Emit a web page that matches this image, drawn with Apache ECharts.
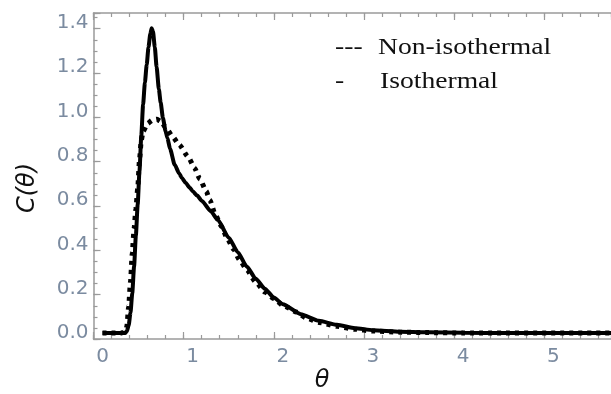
<!DOCTYPE html>
<html>
<head>
<meta charset="utf-8">
<script src="https://cdn.jsdelivr.net/npm/echarts@6/dist/echarts.min.js"></script>
<style>html,body{margin:0;padding:0;background:#fff}#c{width:611px;height:394px}</style>
</head>
<body>
<div id="c"></div>
<script>
// Isothermal (solid)
const isoTheta = [0, 0.1, 0.2, 0.25, 0.27, 0.29, 0.31, 0.33, 0.35, 0.37, 0.39, 0.41, 0.43, 0.45, 0.47, 0.49, 0.51, 0.53, 0.545, 0.56, 0.58, 0.60, 0.625, 0.645, 0.67, 0.70, 0.72, 0.75, 0.80, 0.85, 0.88, 0.92, 0.97, 1.0, 1.05, 1.1, 1.2, 1.28, 1.4, 1.5, 1.6, 1.7, 1.8, 1.9, 2.0, 2.2, 2.4, 2.6, 2.8, 3.0, 3.3, 3.6, 4.0, 4.5, 5.0, 5.7];
const isoC     = [0, 0, 0, 0, 0.008, 0.035, 0.09, 0.18, 0.30, 0.44, 0.58, 0.73, 0.89, 1.03, 1.13, 1.21, 1.29, 1.35, 1.375, 1.36, 1.29, 1.20, 1.10, 1.04, 0.97, 0.91, 0.88, 0.83, 0.76, 0.72, 0.70, 0.678, 0.655, 0.64, 0.62, 0.597, 0.55, 0.51, 0.43, 0.365, 0.30, 0.245, 0.20, 0.16, 0.13, 0.085, 0.055, 0.037, 0.022, 0.013, 0.006, 0.003, 0.001, 0, 0, 0];
// Non-isothermal (dotted)
const nonTheta = [0, 0.1, 0.2, 0.24, 0.26, 0.27, 0.29, 0.31, 0.33, 0.35, 0.37, 0.39, 0.41, 0.43, 0.45, 0.50, 0.55, 0.60, 0.65, 0.70, 0.78, 0.85, 0.95, 1.02, 1.08, 1.15, 1.19, 1.25, 1.32, 1.38, 1.45, 1.52, 1.6, 1.7, 1.8, 1.9, 2.0, 2.15, 2.26, 2.4, 2.6, 2.8, 3.0, 3.3, 3.6, 4.0, 5.7];
const nonC     = [0, 0, 0, 0.004, 0.012, 0.03, 0.12, 0.23, 0.36, 0.47, 0.56, 0.65, 0.78, 0.87, 0.91, 0.945, 0.96, 0.965, 0.955, 0.928, 0.885, 0.85, 0.795, 0.745, 0.695, 0.64, 0.60, 0.535, 0.48, 0.43, 0.38, 0.33, 0.285, 0.23, 0.185, 0.155, 0.125, 0.095, 0.068, 0.048, 0.03, 0.017, 0.009, 0.004, 0.002, 0, 0];
// Ticks and tick labels
const xMajorStep = 1, xMinorStep = 0.2;
const yMajorStep = 0.2, yMinorStep = 0.05;
const xLabels = [0, 1, 2, 3, 4, 5];
const yLabels = [0, 0.2, 0.4, 0.6, 0.8, 1.0, 1.2, 1.4];
const legendMarks = ['---', '-'];
const legendLabels = ['Non-isothermal', 'Isothermal'];

const X_MIN = -0.1, X_MAX = 5.64, Y_MIN = -0.027, Y_MAX = 1.444;
const frame = '#9a9a9a';
const lblColor = '#7b8ba0';

function xAx(pos, step, len, showLine, labels) {
  return {
    type: 'value', position: pos, min: X_MIN, max: X_MAX, interval: step,
    axisLine: { show: showLine, onZero: false, lineStyle: { color: frame, width: 1.5 } },
    axisTick: { show: true, inside: true, length: len, lineStyle: { color: frame, width: 1.2 } },
    axisLabel: labels ? { show: true, customValues: xLabels, color: lblColor, fontFamily: 'DejaVu Sans', fontSize: 20, margin: 8 } : { show: false },
    splitLine: { show: false }
  };
}
function yAx(step, len, showLine, labels) {
  return {
    type: 'value', position: 'left', min: Y_MIN, max: Y_MAX, interval: step,
    axisLine: { show: showLine, onZero: false, lineStyle: { color: frame, width: 1.5 } },
    axisTick: { show: true, inside: true, length: len, lineStyle: { color: frame, width: 1.2 } },
    axisLabel: labels ? { show: true, customValues: yLabels, color: lblColor, fontFamily: 'DejaVu Sans', fontSize: 20, margin: 5,
      formatter: v => Number(v).toFixed(1) } : { show: false },
    splitLine: { show: false }
  };
}

const chart = echarts.init(document.getElementById('c'), null, { renderer: 'canvas' });
chart.setOption({
  animation: false,
  backgroundColor: '#fff',
  grid: { left: 93.5, top: 13, width: 518.3, height: 326, containLabel: false },
  xAxis: [
    xAx('bottom', xMajorStep, 7, true, true),
    xAx('bottom', xMinorStep, 4, false, false),
    xAx('top', xMajorStep, 7, true, false),
    xAx('top', xMinorStep, 4, false, false)
  ],
  yAxis: [
    yAx(yMajorStep, 7, true, true),
    yAx(yMinorStep, 4, false, false)
  ],
  series: [
    {
      name: 'Non-isothermal', type: 'line', xAxisIndex: 0, yAxisIndex: 0,
      data: nonTheta.map((t, i) => [t, nonC[i]]),
      smooth: 0.2, smoothMonotone: 'x', showSymbol: false,
      lineStyle: { color: '#000', width: 5, type: [4, 5], cap: 'butt' }
    },
    {
      name: 'Isothermal', type: 'line', xAxisIndex: 0, yAxisIndex: 0,
      data: isoTheta.map((t, i) => [t, isoC[i]]),
      smooth: 0.2, smoothMonotone: 'x', showSymbol: false,
      lineStyle: { color: '#000', width: 4 }
    }
  ],
  graphic: [
    { type: 'text', x: 335, y: 48, scaleX: 1.2, style: { text: legendMarks[0], font: '23px "Liberation Serif"', fill: '#111', verticalAlign: 'middle' } },
    { type: 'text', x: 378, y: 48, scaleX: 1.2, style: { text: legendLabels[0], font: '23px "Liberation Serif"', fill: '#111', verticalAlign: 'middle' } },
    { type: 'text', x: 335, y: 82, scaleX: 1.2, style: { text: legendMarks[1], font: '23px "Liberation Serif"', fill: '#111', verticalAlign: 'middle' } },
    { type: 'text', x: 380, y: 82, scaleX: 1.2, style: { text: legendLabels[1], font: '23px "Liberation Serif"', fill: '#111', verticalAlign: 'middle' } },
    { type: 'text', x: 28, y: 188, rotation: Math.PI / 2, style: { text: 'C(θ)', font: 'italic 24px "DejaVu Sans"', fill: '#111', align: 'center', verticalAlign: 'middle' } },
    { type: 'text', x: 322, y: 381, style: { text: 'θ', font: 'italic 24px "DejaVu Sans"', fill: '#111', align: 'center', verticalAlign: 'middle' } }
  ]
});
</script>
</body>
</html>
